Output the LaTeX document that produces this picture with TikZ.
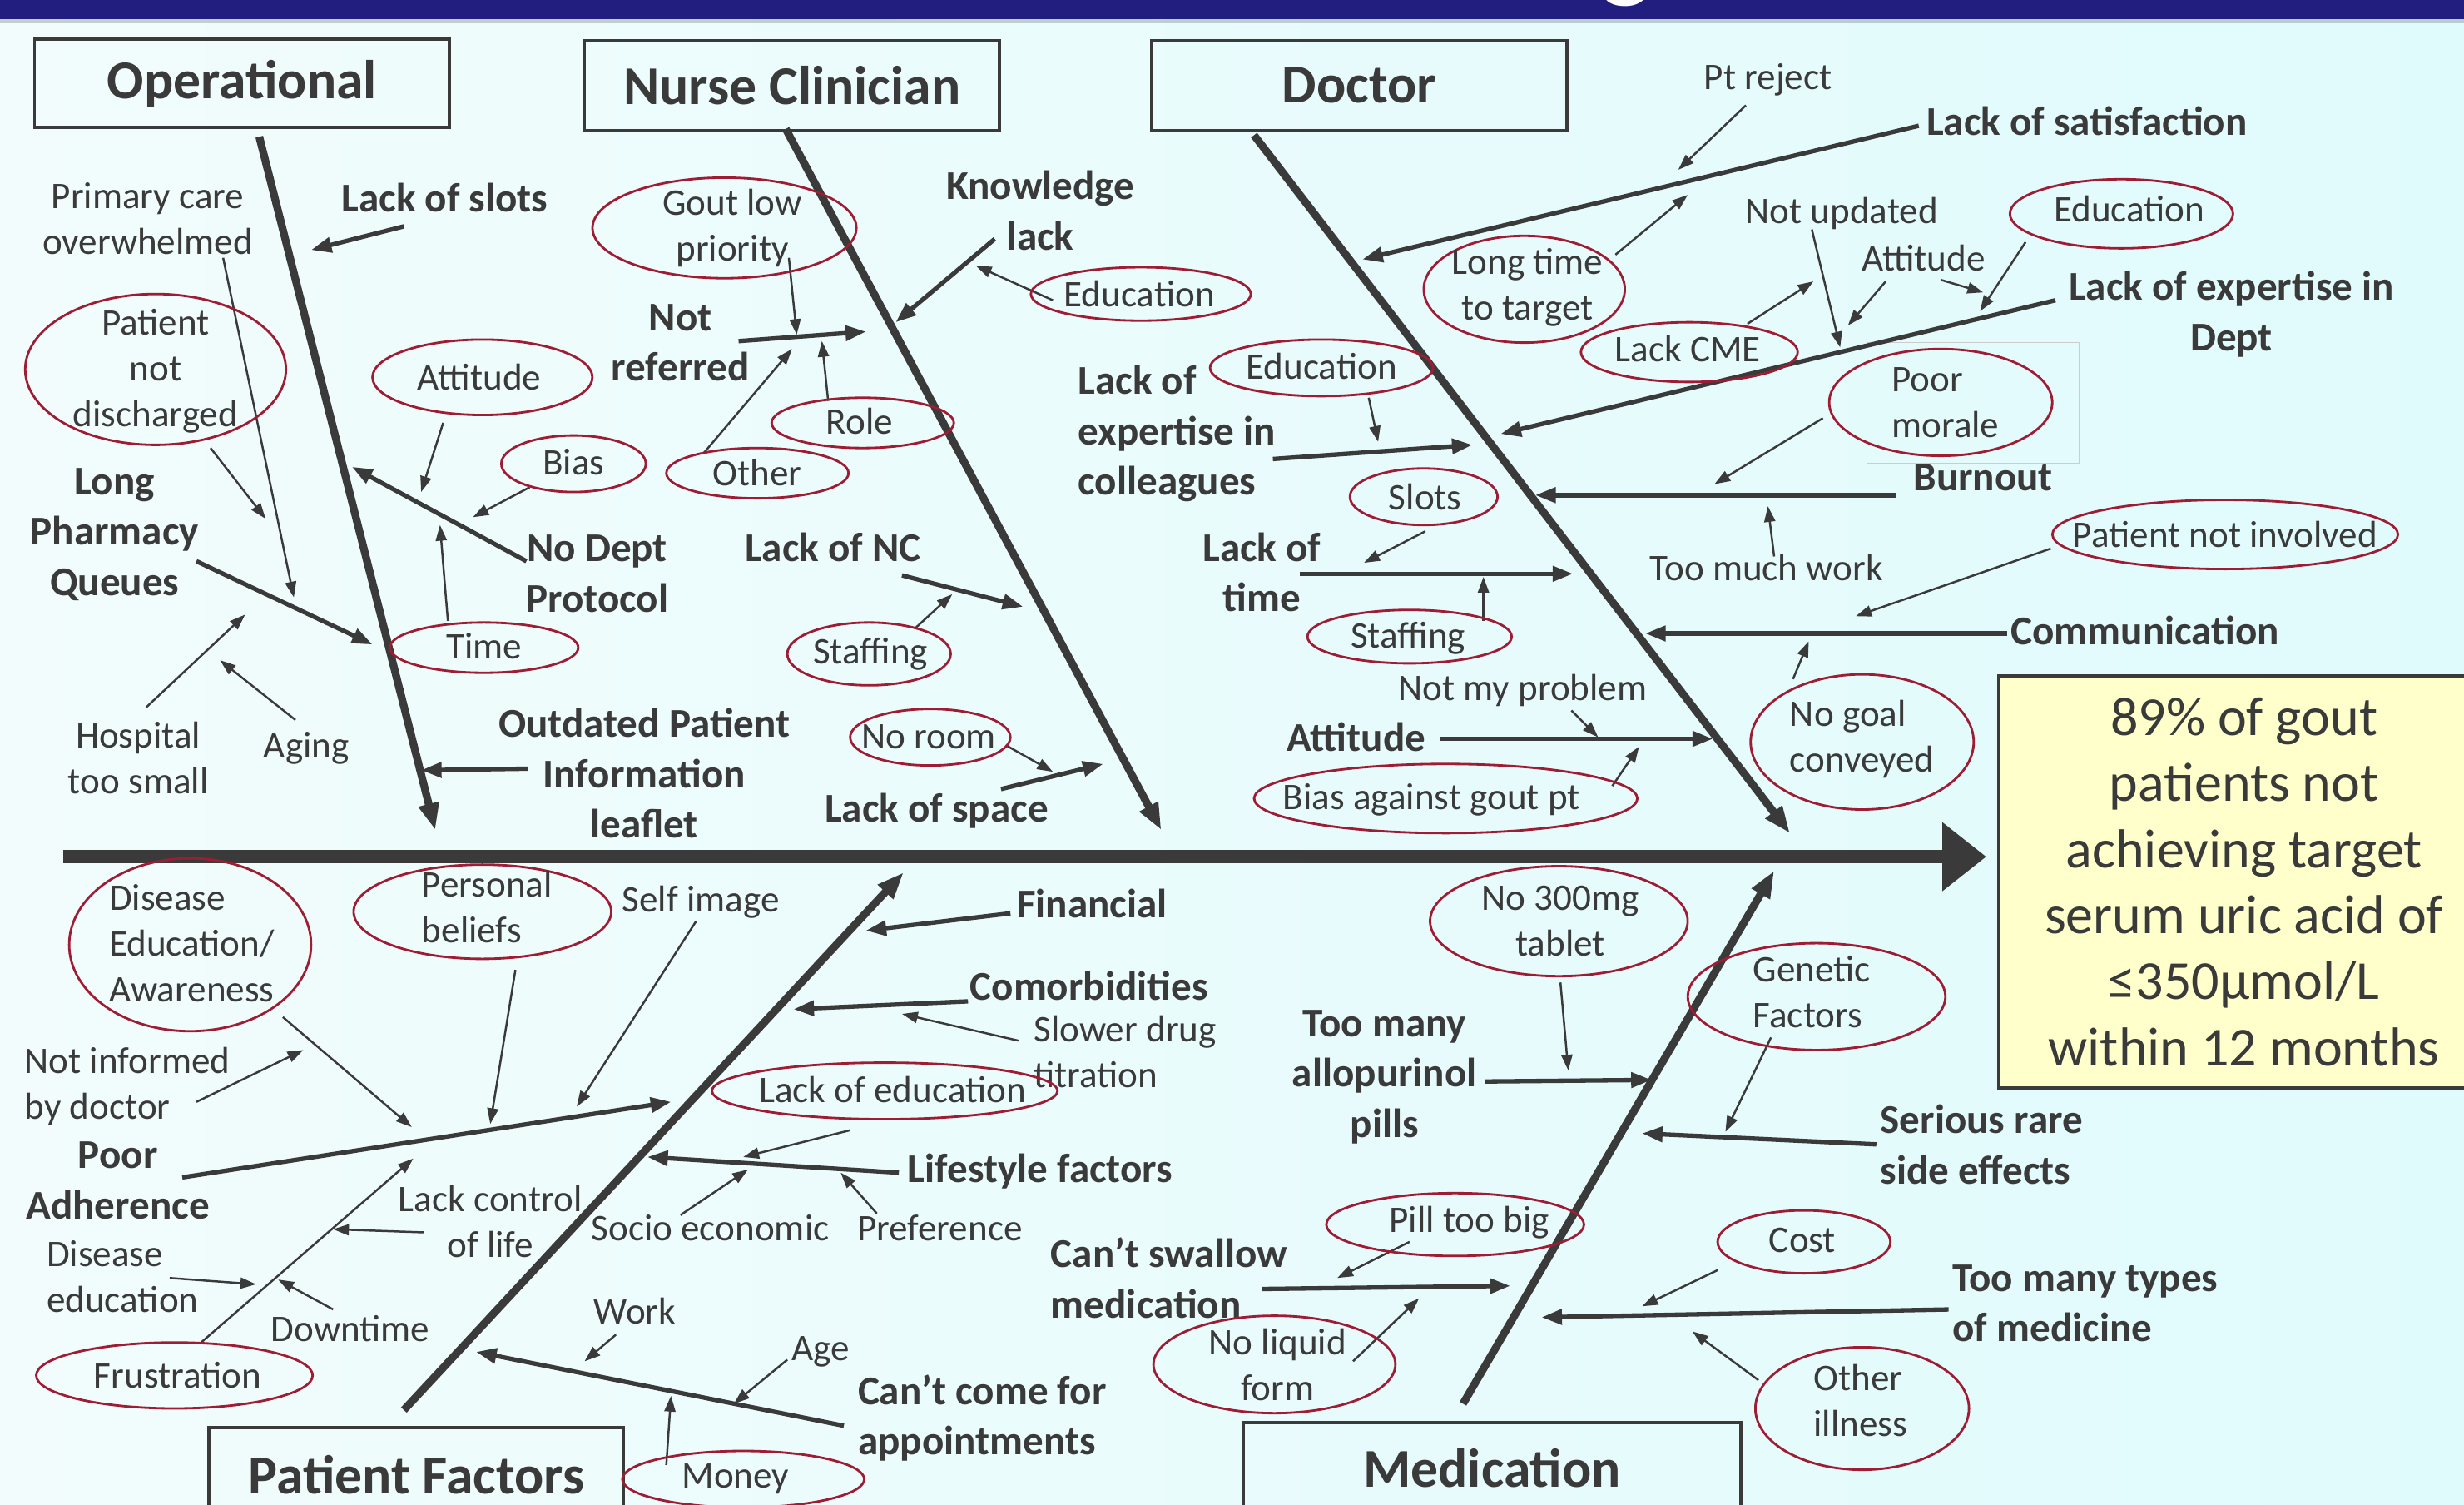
\documentclass[tikz,border=0pt]{standalone}
\usepackage{fontspec}
\setmainfont{Carlito}
\usetikzlibrary{arrows.meta,shapes.geometric}
\definecolor{bgL}{RGB}{242,252,252}
\definecolor{bgR}{RGB}{224,251,252}
\definecolor{navy}{RGB}{33,30,128}
\definecolor{ink}{RGB}{58,58,58}
\definecolor{ellred}{RGB}{158,28,52}
\definecolor{resyel}{RGB}{255,255,204}
\newcommand\fN{\fontsize{13.6}{16.6}\selectfont}
\newcommand\fB{\bfseries\fontsize{14.8}{18.2}\selectfont}
\newcommand\fT{\bfseries\fontsize{19.8}{24}\selectfont}
\newcommand\fR{\fontsize{19.9}{23.9}\selectfont}
\tikzset{
  txt/.style={font=\fN, text=ink, inner sep=0pt, align=center},
  btxt/.style={font=\fB, text=ink, inner sep=0pt, align=center},
  ell/.style 2 args={draw=ellred, line width=0.85pt, ellipse, inner sep=0pt, minimum width=#1*0.04cm, minimum height=#2*0.04cm},
  titlebox/.style={draw=ink, line width=1.1pt, font=\fT, text=ink, inner sep=0pt},
  bone/.style={draw=ink, line width=2.8pt, -{Triangle[length=0.34cm,width=0.25cm]}},
  spine/.style={draw=ink, line width=5pt, -{Triangle[length=0.56cm,width=0.84cm]}},
  sub/.style={draw=ink, line width=1.6pt, -{Triangle[length=0.26cm,width=0.19cm]}},
  tin/.style={draw=ink, line width=0.75pt, -{Triangle[length=0.2cm,width=0.14cm]}},
}
\begin{document}
\begin{tikzpicture}[x=0.02cm,y=-0.02cm]
\useasboundingbox (0,0) rectangle (1568,957);
\shade[left color=bgL,right color=bgR] (0,0) rectangle (1568,957);
\fill[black,opacity=0.18] (0,12) rectangle (1568,15);
\fill[navy] (0,0) rectangle (1568,12);
\begin{scope}
\clip (0,0) rectangle (1568,12);
\node[font=\bfseries\fontsize{38}{40}\selectfont,text=white,inner sep=0pt,anchor=base] (ttlg) at (1035,-7) {g};
\end{scope}

% ---------- boxes ----------
\node[titlebox,minimum width=5.28cm,minimum height=1.12cm] (op) at (154,53) {Operational};
\node[titlebox,minimum width=5.28cm,minimum height=1.14cm] (nc) at (504,54.5) {Nurse Clinician};
\node[titlebox,minimum width=5.28cm,minimum height=1.14cm] (dr) at (865,54.5) {Doctor};
\node[titlebox,minimum width=5.28cm,minimum height=1.2cm] (pf) at (265,938) {Patient Factors};
\node[titlebox,minimum width=6.34cm,minimum height=1.16cm] (md) at (949.5,934) {Medication};
\node[draw=ink,line width=1.1pt,fill=resyel,minimum width=6.12cm,minimum height=5.24cm,inner sep=0pt] (res) at (1425,561) {};
\node[font=\fR,text=ink,inner sep=0pt,align=center] (restxt) at (1428,561) {89\% of gout\\patients not\\achieving target\\serum uric acid of\\≤350µmol/L\\within 12 months};
\draw[gray!40,line width=0.4pt] (1188,218) rectangle (1323,295);

% ---------- coordinates ----------
\path (40,545) coordinate (sp0) (1264,545) coordinate (sp1)
      (165,87) coordinate (b1s) (277,528) coordinate (b1e)
      (500,82) coordinate (b2s) (739,528) coordinate (b2e)
      (798,86) coordinate (b3s) (1139,530) coordinate (b3e)
      (257,897) coordinate (b4s) (575,555) coordinate (b4e)
      (931,893) coordinate (b5s) (1129,554) coordinate (b5e);
% operational
\path (142,164) coordinate (o1s) (187,380) coordinate (o1e)
      (257,144) coordinate (o2s) (198,159) coordinate (o2e)
      (134,285) coordinate (o3s) (169,330) coordinate (o3e)
      (125,357) coordinate (o4s) (237,410) coordinate (o4e)
      (93,450) coordinate (o5s) (156,391) coordinate (o5e)
      (188,458) coordinate (o6s) (140,420) coordinate (o6e)
      (282,269) coordinate (o7s) (268,313) coordinate (o7e)
      (337,310) coordinate (o8s) (301,329) coordinate (o8e)
      (335,357) coordinate (o9s) (224,297) coordinate (o9e)
      (285,395) coordinate (o10s) (280,334) coordinate (o10e)
      (336,489) coordinate (o11s) (268,490) coordinate (o11e);
% nurse
\path (502,164) coordinate (n1s) (507,213) coordinate (n1e)
      (470,217) coordinate (n2s) (551,211) coordinate (n2e)
      (527,255) coordinate (n3s) (523,217) coordinate (n3e)
      (448,288) coordinate (n4s) (504,222) coordinate (n4e)
      (633,152) coordinate (n5s) (570,205) coordinate (n5e)
      (670,191) coordinate (n6s) (621,169) coordinate (n6e)
      (574,366) coordinate (n7s) (651,386) coordinate (n7e)
      (582,400) coordinate (n8s) (606,378) coordinate (n8e)
      (640,474) coordinate (n9s) (670,491) coordinate (n9e)
      (637,502) coordinate (n10s) (702,486) coordinate (n10e);
% doctor
\path (1111,67) coordinate (d1s) (1068,108) coordinate (d1e)
      (1221,80) coordinate (d2s) (867,165) coordinate (d2e)
      (1028,162) coordinate (d3s) (1074,124) coordinate (d3e)
      (1153,146) coordinate (d4s) (1171,221) coordinate (d4e)
      (1200,179) coordinate (d5s) (1176,207) coordinate (d5e)
      (1235,178) coordinate (d6s) (1262,186) coordinate (d6e)
      (1289,154) coordinate (d7s) (1260,198) coordinate (d7e)
      (1308,191) coordinate (d8s) (955,276) coordinate (d8e)
      (1112,206) coordinate (d9s) (1154,179) coordinate (d9e)
      (1160,266) coordinate (d10s) (1091,308) coordinate (d10e)
      (1207,315) coordinate (d11s) (977,315) coordinate (d11e)
      (1129,354) coordinate (d12s) (1125,322) coordinate (d12e)
      (1305,349) coordinate (d13s) (1181,392) coordinate (d13e)
      (1277,403) coordinate (d14s) (1047,403) coordinate (d14e)
      (1141,432) coordinate (d15s) (1151,408) coordinate (d15e)
      (871,253) coordinate (d16s) (877,281) coordinate (d16e)
      (810,292) coordinate (d17s) (937,283) coordinate (d17e)
      (907,338) coordinate (d18s) (868,358) coordinate (d18e)
      (827,365) coordinate (d19s) (1001,365) coordinate (d19e)
      (944,395) coordinate (d20s) (944,367) coordinate (d20e)
      (1000,452) coordinate (d21s) (1017,469) coordinate (d21e)
      (916,470) coordinate (d22s) (1090,470) coordinate (d22e)
      (1026,500) coordinate (d23s) (1043,475) coordinate (d23e);
% patient
\path (180,647) coordinate (p1s) (262,717) coordinate (p1e)
      (328,617) coordinate (p2s) (312,715) coordinate (p2e)
      (443,586) coordinate (p3s) (367,704) coordinate (p3e)
      (125,701) coordinate (p4s) (193,668) coordinate (p4e)
      (116,749) coordinate (p5s) (427,701) coordinate (p5e)
      (128,854) coordinate (p6s) (263,737) coordinate (p6e)
      (270,784) coordinate (p7s) (212,782) coordinate (p7e)
      (108,813) coordinate (p8s) (163,817) coordinate (p8e)
      (212,833) coordinate (p9s) (177,814) coordinate (p9e)
      (643,581) coordinate (p10s) (551,592) coordinate (p10e)
      (616,637) coordinate (p11s) (505,642) coordinate (p11e)
      (648,662) coordinate (p12s) (574,645) coordinate (p12e)
      (541,719) coordinate (p13s) (473,736) coordinate (p13e)
      (572,746) coordinate (p14s) (412,736) coordinate (p14e)
      (433,773) coordinate (p15s) (476,744) coordinate (p15e)
      (558,772) coordinate (p16s) (535,746) coordinate (p16e)
      (392,849) coordinate (p17s) (372,866) coordinate (p17e)
      (537,907) coordinate (p18s) (303,860) coordinate (p18e)
      (501,865) coordinate (p19s) (467,893) coordinate (p19e)
      (424,932) coordinate (p20s) (427,888) coordinate (p20e);
% medication
\path (993,625) coordinate (m1s) (998,681) coordinate (m1e)
      (945,688) coordinate (m2s) (1051,687) coordinate (m2e)
      (1127,660) coordinate (m3s) (1098,720) coordinate (m3e)
      (1194,728) coordinate (m4s) (1045,721) coordinate (m4e)
      (897,790) coordinate (m5s) (851,813) coordinate (m5e)
      (803,820) coordinate (m6s) (961,818) coordinate (m6e)
      (861,866) coordinate (m7s) (903,826) coordinate (m7e)
      (1093,808) coordinate (m8s) (1045,831) coordinate (m8e)
      (1240,833) coordinate (m9s) (981,838) coordinate (m9e)
      (1119,878) coordinate (m10s) (1077,847) coordinate (m10e);

% ---------- spine and bones ----------
\draw[spine] (sp0) -- (sp1);
\foreach \b in {1,...,5} {\draw[bone] (b\b s) -- (b\b e);}

% ---------- connectors ----------
\foreach \c in {o2,o4,o9,o11,n2,n5,n7,n10,d2,d8,d11,d14,d17,d19,d22,p5,p10,p11,p14,p18,m2,m4,m6,m9}
  {\draw[sub] (\c s) -- (\c e);}
\foreach \c in {o1,o3,o5,o6,o7,o8,o10,n1,n3,n4,n6,n8,n9,d1,d3,d4,d5,d6,d7,d9,d10,d12,d13,d15,d16,d18,d20,d21,d23,p1,p2,p3,p4,p6,p7,p8,p9,p12,p13,p15,p16,p17,p19,p20,m1,m3,m5,m7,m8,m10}
  {\draw[tin] (\c s) -- (\c e);}

% ---------- Operational ----------
\node[txt] (primary) at (94,139) {Primary care\\overwhelmed};
\node[btxt] (lslots) at (283,126) {Lack of slots};
\node[ell={83}{48}] (epnd) at (99,235) {};
\node[txt] (epndt) at (99,236) {Patient\\not\\discharged};
\node[btxt] (longpq) at (73,340) {Long\\Pharmacy\\Queues};
\node[txt] (hosp) at (88,482) {Hospital\\too small};
\node[txt] (aging) at (195,476) {Aging};
\node[ell={70}{24}] (eatt) at (307,240) {};
\node[txt] (eattt) at (305,240) {Attitude};
\node[ell={46}{18}] (ebias) at (365,295) {};
\node[txt] (ebiast) at (365,294) {Bias};
\node[btxt] (nodept) at (380,365) {No Dept\\Protocol};
\node[ell={60}{16}] (etime) at (308,412) {};
\node[txt] (etimet) at (308,411) {Time};
\node[btxt] (outdated) at (410,492) {Outdated Patient\\Information\\leaflet};

% ---------- Nurse Clinician ----------
\node[ell={84}{32}] (eglp) at (461,145) {};
\node[txt] (eglpt) at (466,145) {Gout low\\priority};
\node[btxt] (notref) at (433,218) {Not\\referred};
\node[ell={58}{16}] (erole) at (549,269) {};
\node[txt] (erolet) at (547,268) {Role};
\node[ell={58}{16}] (eother) at (482,301) {};
\node[txt] (eothert) at (482,301) {Other};
\node[btxt] (know) at (662,134) {Knowledge\\lack};
\node[ell={70}{17}] (eedu1) at (726,187) {};
\node[txt] (eedu1t) at (725,187) {Education};
\node[btxt] (lacknc) at (530,348) {Lack of NC};
\node[ell={52}{20}] (estaff1) at (553,416) {};
\node[txt] (estaff1t) at (554,416) {Staffing};
\node[ell={51}{18}] (enoroom) at (592,469) {};
\node[txt] (enoroomt) at (591,469) {No room};
\node[btxt] (lspace) at (596,516) {Lack of space};

% ---------- Doctor ----------
\node[txt] (ptrej) at (1125,51) {Pt reject};
\node[btxt] (lsat) at (1328,77) {Lack of satisfaction};
\node[ell={64}{34}] (eltt) at (970,184) {};
\node[txt] (elttt) at (972,183) {Long time\\to target};
\node[txt] (notupd) at (1172,136) {Not updated};
\node[txt] (attd) at (1224,164) {Attitude};
\node[ell={71}{22}] (eedu2) at (1350,136) {};
\node[txt] (eedu2t) at (1355,133) {Education};
\node[btxt] (lexpd) at (1420,200) {Lack of expertise in\\Dept};
\node[ell={69}{19}] (ecme) at (1075,224) {};
\node[txt] (ecmet) at (1074,222) {Lack CME};
\node[ell={71}{34}] (epoor) at (1235,256) {};
\node[txt,align=left] (epoort) at (1238,256) {Poor\\morale};
\node[btxt] (burnout) at (1262,304) {Burnout};
\node[txt] (toomuch) at (1124,361) {Too much work};
\node[ell={110}{22}] (epni) at (1416,340) {};
\node[txt] (epnit) at (1416,340) {Patient not involved};
\node[btxt] (comm) at (1365,401) {Communication};
\node[ell={71}{43}] (enogoal) at (1185,472) {};
\node[txt,align=left] (enogoalt) at (1185,470) {No goal\\conveyed};
\node[btxt,align=left] (lexpc) at (749,276) {Lack of\\expertise in\\colleagues};
\node[ell={71}{18}] (eedu3) at (841,234) {};
\node[txt] (eedu3t) at (841,233) {Education};
\node[ell={47}{18}] (eslots) at (906,316) {};
\node[txt] (eslotst) at (907,316) {Slots};
\node[btxt] (lot) at (803,364) {Lack of\\time};
\node[ell={65}{17}] (estaff2) at (897,405) {};
\node[txt] (estaff2t) at (896,406) {Staffing};
\node[txt] (notmy) at (969,439) {Not my problem};
\node[btxt] (attb) at (863,469) {Attitude};
\node[ell={122}{22}] (ebias2) at (920,508) {};
\node[txt] (ebias2t) at (911,509) {Bias against gout pt};

% ---------- Patient Factors ----------
\node[ell={77}{55}] (edea) at (121,601) {};
\node[txt,align=left] (edeat) at (122,600) {Disease\\Education/\\Awareness};
\node[ell={82}{30}] (epb) at (307,580) {};
\node[txt,align=left] (epbt) at (310,577) {Personal\\beliefs};
\node[txt] (selfimg) at (446,574) {Self image};
\node[txt,align=left] (notinf) at (81,691) {Not informed\\by doctor};
\node[btxt] (pooradh) at (75,751) {Poor\\Adherence};
\node[txt] (lcl) at (312,777) {Lack control\\of life};
\node[txt,align=left] (disedu) at (78,812) {Disease\\education};
\node[txt] (downtime) at (223,845) {Downtime};
\node[ell={88}{21}] (efrus) at (111,875) {};
\node[txt] (efrust) at (113,875) {Frustration};
\node[btxt] (financial) at (695,575) {Financial};
\node[btxt] (comorb) at (693,627) {Comorbidities};
\node[txt,align=left] (slower) at (716,669) {Slower drug\\titration};
\node[ell={110}{18}] (eloe) at (563,694) {};
\node[txt] (eloet) at (568,693) {Lack of education};
\node[btxt] (lifestyle) at (662,745) {Lifestyle factors};
\node[txt] (socio) at (452,781) {Socio economic};
\node[txt] (pref) at (598,781) {Preference};
\node[txt] (work) at (404,834) {Work};
\node[txt] (age) at (522,860) {Age};
\node[btxt,align=left] (cantcome) at (625,902) {Can’t come for\\appointments};
\node[ell={77}{18}] (emoney) at (473,941) {};
\node[txt] (emoneyt) at (468,941) {Money};

% ---------- Medication ----------
\node[ell={82}{35}] (en300) at (992,586) {};
\node[txt] (en300t) at (993,586) {No 300mg\\tablet};
\node[btxt] (toomany) at (881,685) {Too many\\allopurinol\\pills};
\node[ell={82}{34}] (egen) at (1156,634) {};
\node[txt,align=left] (egent) at (1153,631) {Genetic\\Factors};
\node[btxt,align=left] (serious) at (1261,728) {Serious rare\\side effects};
\node[ell={82}{20}] (epill) at (926,779) {};
\node[txt] (epillt) at (935,778) {Pill too big};
\node[btxt,align=left] (cantsw) at (744,813) {Can’t swallow\\medication};
\node[ell={77}{31}] (enlf) at (811,868) {};
\node[txt] (enlft) at (813,868) {No liquid\\form};
\node[ell={55}{20}] (ecost) at (1148,790) {};
\node[txt] (ecostt) at (1147,789) {Cost};
\node[btxt,align=left] (toomanyt) at (1327,829) {Too many types\\of medicine};
\node[ell={68}{39}] (eoill) at (1185,896) {};
\node[txt,align=left] (eoillt) at (1184,891) {Other\\illness};
\end{tikzpicture}
\end{document}
